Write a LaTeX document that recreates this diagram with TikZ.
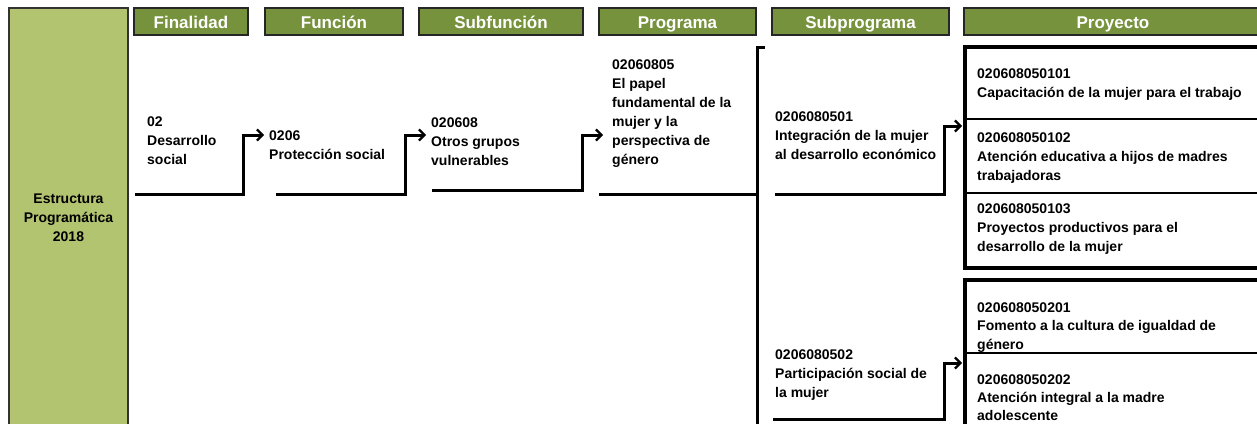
\documentclass[tikz,border=0pt]{standalone}
\usepackage{fontspec}
\setmainfont{Liberation Sans}
\usetikzlibrary{arrows.meta}
\definecolor{hdrfill}{HTML}{77923C}
\definecolor{sidefill}{HTML}{B3C470}
\begin{document}
\begin{tikzpicture}[x=1pt,y=-1pt,
  hdr/.style={draw=black!85,line width=1.2pt,fill=hdrfill,text=white,
    font=\fontsize{17}{19}\selectfont\bfseries,minimum height=27pt,inner sep=0pt,
    text height=14.2pt,text depth=0pt},
  txt/.style={anchor=north west,inner sep=0pt,align=left,
    font=\fontsize{14}{19}\selectfont\bfseries},
  conn/.style={line width=3pt,-{Straight Barb[length=5.5pt,width=11pt,line width=2.2pt]}},
  rule/.style={line width=3pt},
  projbox/.style={line width=3.2pt},
  divider/.style={line width=2.6pt}]
\useasboundingbox (0,0) rectangle (1257,423);

% side box
\draw[fill=sidefill,draw=black!80,line width=1.2pt] (9,8) rectangle (128,440);
\node[anchor=north,inner sep=0pt,align=center,font=\fontsize{14}{19}\selectfont\bfseries]
  (side) at (68.5,193.5) {Estructura\\Programática\\2018};

% headers
\node[hdr,minimum width=114pt] (hfin) at (191,21.5) {Finalidad};
\node[hdr,minimum width=138pt] (hfun) at (334,21.5) {Función};
\node[hdr,minimum width=164pt] (hsub) at (501,21.5) {Subfunción};
\node[hdr,minimum width=157pt] (hprog) at (677.5,21.5) {Programa};
\node[hdr,minimum width=177pt] (hsprog) at (860.5,21.5) {Subprograma};
\node[hdr,minimum width=298pt] (hproy) at (1113,21.5) {Proyecto};

% text nodes
\node[txt] (n1) at (147,117) {02\\Desarrollo\\social};
\node[txt] (n2) at (269,131) {0206\\Protección social};
\node[txt] (n3) at (431,118) {020608\\Otros grupos\\vulnerables};
\node[txt] (n4) at (612,60) {02060805\\El papel\\fundamental de la\\mujer y la\\perspectiva de\\género};
\node[txt] (s1) at (775,112) {0206080501\\Integración de la mujer\\al desarrollo económico};
\node[txt] (s2) at (775,350) {0206080502\\Participación social de\\la mujer};

% project boxes
\coordinate (b1) at (965,47);
\coordinate (b2) at (965,280);
\draw[projbox] (1262,47) -- (b1) -- (965,268) -- (1262,268);
\draw[divider] (965,119) -- (1262,119);
\draw[divider] (965,193) -- (1262,193);
\draw[projbox] (1262,280) -- (b2) -- (965,440);
\draw[divider] (965,353) -- (1262,353);

\node[txt] (p1) at (977,69) {020608050101\\Capacitación de la mujer para el trabajo};
\node[txt] (p2) at (977,133) {020608050102\\Atención educativa a hijos de madres\\trabajadoras};
\node[txt] (p3) at (977,204) {020608050103\\Proyectos productivos para el\\desarrollo de la mujer};
\node[txt,font=\fontsize{14}{18.5}\selectfont\bfseries] (p4) at (977,302.5) {020608050201\\Fomento a la cultura de igualdad de\\género};
\node[txt,font=\fontsize{14}{18}\selectfont\bfseries] (p5) at (977,374.5) {020608050202\\Atención integral a la madre\\adolescente};

% connectors
\coordinate (u1) at (135,194);
\coordinate (u2) at (276,194);
\coordinate (u3) at (432,190);
\coordinate (u5) at (775,194);
\coordinate (u6) at (773,419);
\coordinate (t5) at (962,126);
\coordinate (t6) at (962,363);

\draw[conn] (u1) -- (243,194) |- ([xshift=-5pt,yshift=-4pt]n2.north west);
\draw[conn] (u2) -- (405,194) |- ([xshift=-5pt,yshift=-17pt]n3.north west);
\draw[conn] (u3) -- (582,190) |- ([xshift=-9pt,yshift=-75pt]n4.north west);
\draw[conn] (u5) -- (944,194) |- (t5);
\draw[conn] (u6) -- (944,419) |- (t6);

% programa underline and bracket
\coordinate (u4) at (599,194);
\coordinate (br) at (757,47);
\draw[rule] (u4) -- (757,194);
\draw[rule] (765,47) -- (br) -- (757,440);
\end{tikzpicture}
\end{document}
